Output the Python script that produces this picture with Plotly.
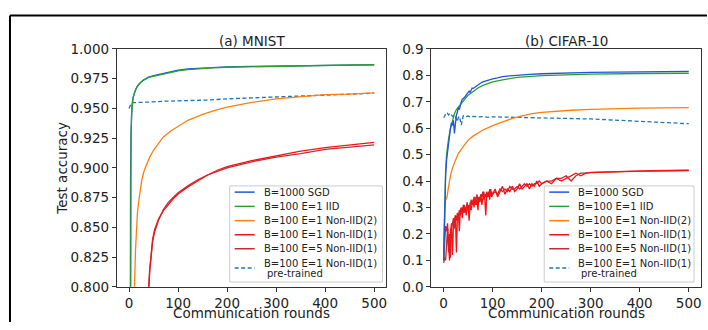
import plotly.graph_objects as go

# ---------------- data ----------------
series_names = ["B=1000 SGD", "B=100 E=1 IID", "B=100 E=1 Non-IID(2)",
                "B=100 E=1 Non-IID(1)", "B=100 E=5 Non-IID(1)",
                "B=100 E=1 Non-IID(1) pre-trained"]

# MNIST
mn_sgd_x = [0, 1, 2, 3, 4, 5, 6, 8, 10, 13, 16, 20, 25, 30, 35, 40, 50, 60, 70, 80, 100, 120, 150, 200, 250, 300, 350, 400, 450, 500]
mn_sgd_y = [0.10, 0.45, 0.75, 0.89, 0.93, 0.947, 0.953, 0.959, 0.962, 0.9655, 0.968, 0.9703, 0.9725, 0.974, 0.9752, 0.9762,
            0.9775, 0.9785, 0.9795, 0.9805, 0.9822, 0.9833, 0.9841, 0.9849, 0.9853, 0.9857, 0.986, 0.9862, 0.9864, 0.9866]
mn_iid_x = [0, 1, 2, 3, 4, 5, 6, 8, 10, 13, 16, 20, 25, 30, 40, 50, 60, 70, 80, 100, 120, 140, 170, 200, 250, 300, 350, 400, 450, 500]
mn_iid_y = [0.10, 0.40, 0.70, 0.88, 0.925, 0.945, 0.952, 0.958, 0.962, 0.9655, 0.968, 0.9705, 0.9725, 0.974, 0.976, 0.977,
            0.978, 0.979, 0.980, 0.9815, 0.9826, 0.9834, 0.9841, 0.9846, 0.9851, 0.9855, 0.9859, 0.9862, 0.9865, 0.9867]
mn_n2_x = [8, 10, 11, 13, 15, 17, 19, 22, 26, 31, 36, 42, 50, 60, 70, 85, 100, 120, 150, 180, 200, 250, 300, 350, 400, 450, 500]
mn_n2_y = [0.60, 0.76, 0.80, 0.83, 0.85, 0.862, 0.870, 0.880, 0.890, 0.898, 0.903, 0.909, 0.915, 0.921, 0.926, 0.931, 0.935,
           0.940, 0.945, 0.949, 0.951, 0.955, 0.958, 0.960, 0.9615, 0.962, 0.963]
mn_n1_x = [36, 38, 40, 42, 45, 48, 52, 56, 60, 70, 80, 90, 100, 120, 140, 160, 180, 200, 250, 300, 350, 400, 450, 500]
mn_n1_y = [0.70, 0.77, 0.80, 0.815, 0.83, 0.84, 0.848, 0.853, 0.857, 0.864, 0.869, 0.874, 0.878, 0.884, 0.889, 0.894, 0.898,
           0.901, 0.906, 0.910, 0.914, 0.917, 0.919, 0.9215]
mn_e5_x = [36, 38, 40, 42, 45, 48, 52, 56, 60, 70, 80, 90, 100, 120, 140, 160, 180, 200, 250, 300, 350, 400, 450, 500]
mn_e5_y = [0.69, 0.76, 0.795, 0.812, 0.828, 0.838, 0.846, 0.852, 0.856, 0.865, 0.871, 0.875, 0.879, 0.885, 0.890, 0.894, 0.897,
           0.900, 0.905, 0.909, 0.912, 0.9155, 0.9175, 0.9193]
mn_pre_x = [0, 2, 4, 8, 15, 25, 40, 50, 70, 100, 130, 160, 200, 250, 300, 350, 400, 450, 500]
mn_pre_y = [0.9499, 0.952, 0.954, 0.9548, 0.955, 0.9553, 0.9558, 0.9555, 0.956, 0.9563, 0.9566, 0.957, 0.958, 0.9587, 0.9595,
            0.9603, 0.9612, 0.962, 0.9628]

# CIFAR-10
cf_sgd_x = [0, 2, 4, 6, 8, 10, 12, 14, 16, 18, 20, 22, 24, 26, 28, 30, 32, 34, 36, 38, 40, 44, 48, 52, 54, 56, 58, 60, 65, 70,
            75, 80, 90, 100, 110, 120, 135, 150, 175, 200, 250, 300, 350, 400, 450, 500]
cf_sgd_y = [0.10, 0.30, 0.42, 0.48, 0.52, 0.55, 0.57, 0.60, 0.62, 0.61, 0.63, 0.58, 0.62, 0.65, 0.66, 0.68, 0.67, 0.69, 0.70,
            0.71, 0.712, 0.72, 0.73, 0.74, 0.735, 0.745, 0.752, 0.75, 0.757, 0.765, 0.77, 0.775, 0.781, 0.787, 0.79, 0.795,
            0.798, 0.801, 0.804, 0.806, 0.809, 0.811, 0.812, 0.813, 0.814, 0.815]
cf_iid_x = [0, 2, 4, 6, 8, 10, 14, 18, 22, 26, 30, 36, 40, 50, 60, 70, 80, 100, 120, 150, 200, 250, 300, 400, 500]
cf_iid_y = [0.10, 0.33, 0.44, 0.50, 0.54, 0.56, 0.60, 0.63, 0.655, 0.67, 0.68, 0.695, 0.703, 0.725, 0.74, 0.752, 0.762, 0.775,
            0.783, 0.792, 0.799, 0.803, 0.805, 0.807, 0.808]
cf_n2_x = [0, 1, 2, 4, 7, 10, 15, 20, 25, 30, 40, 50, 60, 70, 80, 100, 120, 140, 160, 180, 200, 230, 260, 300, 350, 400, 450, 500]
cf_n2_y = [0.10, 0.22, 0.29, 0.33, 0.34, 0.38, 0.43, 0.46, 0.485, 0.505, 0.53, 0.555, 0.57, 0.583, 0.593, 0.61, 0.625, 0.637,
           0.647, 0.655, 0.66, 0.665, 0.668, 0.671, 0.674, 0.676, 0.677, 0.678]
cf_red_x = (list(range(0, 101, 2)) + list(range(105, 201, 5)) + list(range(210, 301, 10)) + list(range(325, 501, 25)))
cf_n1_y = [0.10, 0.20, 0.23, 0.21, 0.24, 0.16, 0.10, 0.21, 0.24, 0.12, 0.23, 0.25, 0.27, 0.13, 0.26, 0.28, 0.21, 0.29, 0.30,
           0.26, 0.31, 0.28, 0.30, 0.27, 0.31, 0.30, 0.25, 0.32, 0.29, 0.31, 0.33, 0.30, 0.34, 0.31, 0.33, 0.29, 0.34, 0.32,
           0.35, 0.31, 0.34, 0.36, 0.33, 0.27, 0.35, 0.34, 0.36, 0.33, 0.37, 0.34, 0.35,
           0.37, 0.34, 0.36, 0.38, 0.35, 0.37, 0.36, 0.38, 0.36, 0.37, 0.39, 0.37, 0.38, 0.39, 0.37, 0.39, 0.38, 0.40, 0.38, 0.39,
           0.40, 0.39, 0.41, 0.40, 0.41, 0.42, 0.43, 0.42, 0.43, 0.432,
           0.434, 0.435, 0.437, 0.438, 0.439, 0.44, 0.44, 0.441]
cf_e5_y = [0.09, 0.11, 0.10, 0.19, 0.22, 0.13, 0.20, 0.11, 0.22, 0.24, 0.26, 0.22, 0.27, 0.25, 0.28, 0.26, 0.29, 0.27, 0.29,
           0.30, 0.28, 0.31, 0.29, 0.30, 0.32, 0.29, 0.31, 0.30, 0.33, 0.31, 0.32, 0.34, 0.31, 0.33, 0.35, 0.32, 0.34, 0.33,
           0.35, 0.34, 0.36, 0.33, 0.35, 0.34, 0.36, 0.35, 0.34, 0.37, 0.35, 0.36, 0.35,
           0.36, 0.35, 0.37, 0.36, 0.37, 0.36, 0.38, 0.37, 0.37, 0.38, 0.37, 0.38, 0.39, 0.38, 0.39, 0.38, 0.39, 0.39, 0.40, 0.39,
           0.40, 0.40, 0.41, 0.41, 0.42, 0.40, 0.42, 0.43, 0.43, 0.433,
           0.435, 0.436, 0.437, 0.438, 0.439, 0.44, 0.44, 0.44]
cf_pre_x = [0, 2, 4, 6, 8, 10, 12, 14, 16, 18, 20, 22, 24, 26, 28, 30, 32, 34, 36, 40, 45, 50, 55, 60, 70, 80, 90, 100, 120,
            140, 160, 180, 200, 250, 300, 350, 400, 450, 500]
cf_pre_y = [0.64, 0.645, 0.655, 0.652, 0.656, 0.65, 0.653, 0.648, 0.65, 0.645, 0.648, 0.64, 0.643, 0.632, 0.625, 0.64, 0.645,
            0.63, 0.612, 0.647, 0.643, 0.646, 0.642, 0.645, 0.643, 0.644, 0.641, 0.643, 0.642, 0.64, 0.641, 0.64, 0.639,
            0.637, 0.635, 0.631, 0.627, 0.622, 0.617]

x_ticks = [0, 100, 200, 300, 400, 500]
mnist_ticks = [0.800, 0.825, 0.850, 0.875, 0.900, 0.925, 0.950, 0.975, 1.000]
cifar_ticks = [0.0, 0.1, 0.2, 0.3, 0.4, 0.5, 0.6, 0.7, 0.8, 0.9]

# ---------------- styles ----------------
colors = ["#1f55e0", "#2ca02c", "#ff7f0e", "#f21414", "#c42a35", "#1f77b4"]
dashes = ["solid", "solid", "solid", "solid", "solid", "4px,2.5px"]
LW = 1.3

W, H = 708, 330
def fx(p): return p / W
def fy(p): return 1 - p / H

FONT = "DejaVu Sans"
fig = go.Figure()

mn = [(mn_sgd_x, mn_sgd_y), (mn_iid_x, mn_iid_y), (mn_n2_x, mn_n2_y), (mn_n1_x, mn_n1_y), (mn_e5_x, mn_e5_y), (mn_pre_x, mn_pre_y)]
cf = [(cf_sgd_x, cf_sgd_y), (cf_iid_x, cf_iid_y), (cf_n2_x, cf_n2_y), (cf_red_x, cf_n1_y), (cf_red_x, cf_e5_y), (cf_pre_x, cf_pre_y)]
for i in [5, 2, 4, 3, 0, 1]:
    x, y = mn[i]
    fig.add_trace(go.Scatter(x=x, y=y, mode="lines", name=series_names[i], showlegend=False,
                             line=dict(color=colors[i], width=LW, dash=dashes[i]), xaxis="x", yaxis="y"))
for i in [5, 2, 4, 3, 1, 0]:
    x, y = cf[i]
    fig.add_trace(go.Scatter(x=x, y=y, mode="lines", name=series_names[i], showlegend=False,
                             line=dict(color=colors[i], width=LW, dash=dashes[i]), xaxis="x2", yaxis="y2"))

L = (117, 387)
R = (432, 702)
T, B = 43, 293

axcommon = dict(showgrid=False, zeroline=False, showline=True, mirror=True, linecolor="#333333", linewidth=1,
                ticks="outside", ticklen=4, tickwidth=1, tickcolor="#333333",
                tickfont=dict(family=FONT, size=13.5, color="#222222"))
fig.update_layout(
    width=W, height=H, autosize=False, margin=dict(l=0, r=0, t=0, b=0, pad=0),
    paper_bgcolor="white", plot_bgcolor="white", showlegend=False,
    xaxis=dict(domain=[fx(L[0]), fx(L[1])], range=[-25, 525], tickvals=x_ticks, anchor="y", **axcommon),
    yaxis=dict(domain=[fy(B), fy(T)], range=[0.8, 1.0], tickvals=mnist_ticks,
               ticktext=[f"{v:.3f}" for v in mnist_ticks], anchor="x", **axcommon),
    xaxis2=dict(domain=[fx(R[0]), fx(R[1])], range=[-25, 525], tickvals=x_ticks, anchor="y2", **axcommon),
    yaxis2=dict(domain=[fy(B), fy(T)], range=[0.0, 0.9], tickvals=cifar_ticks,
                ticktext=[f"{v:.1f}" for v in cifar_ticks], anchor="x2", **axcommon),
)

ann = []
shapes = []
TF = dict(family=FONT, size=13.5, color="#222222")
ann.append(dict(text="(a) MNIST", x=fx((L[0] + L[1]) / 2), y=fy(35), xref="paper", yref="paper",
                showarrow=False, font=TF, xanchor="center", yanchor="middle"))
ann.append(dict(text="(b) CIFAR-10", x=fx((R[0] + R[1]) / 2), y=fy(35), xref="paper", yref="paper",
                showarrow=False, font=TF, xanchor="center", yanchor="middle"))
for cx in [(L[0] + L[1]) / 2, (R[0] + R[1]) / 2]:
    ann.append(dict(text="Communication rounds", x=fx(cx), y=fy(321), xref="paper", yref="paper", borderpad=0,
                    showarrow=False, font=TF, xanchor="center", yanchor="middle"))
ann.append(dict(text="Test accuracy", x=fx(62), y=fy((T + B) / 2), xref="paper", yref="paper", textangle=-90,
                showarrow=False, font=TF, xanchor="center", yanchor="middle"))

# legends (drawn to match the compact matplotlib legend boxes)
LF = dict(family=FONT, size=10, color="#222222")
row_y = [193.5, 208.5, 223.5, 238.3, 253.0]
for bx0, bx1 in [(230, 383), (545, 695)]:
    shapes.append(dict(type="rect", xref="paper", yref="paper", x0=fx(bx0), x1=fx(bx1), y0=fy(187), y1=fy(288),
                       fillcolor="rgba(255,255,255,0.85)", line=dict(color="#cccccc", width=1), layer="above"))
    for i in range(6):
        yy = row_y[i] if i < 5 else 273.3
        shapes.append(dict(type="line", xref="paper", yref="paper", x0=fx(bx0 + 5), x1=fx(bx0 + 25), y0=fy(yy), y1=fy(yy),
                           line=dict(color=colors[i], width=LW + 0.2, dash=dashes[i]), layer="above"))
        if i < 5:
            ann.append(dict(text=series_names[i], x=fx(bx0 + 33), y=fy(yy), xref="paper", yref="paper", showarrow=False,
                            font=LF, xanchor="left", yanchor="middle", borderpad=0))
        else:
            ann.append(dict(text="B=100 E=1 Non-IID(1)", x=fx(bx0 + 33), y=fy(268), xref="paper", yref="paper",
                            showarrow=False, font=LF, xanchor="left", yanchor="middle", borderpad=0))
            ann.append(dict(text="pre-trained", x=fx(bx0 + 36), y=fy(279), xref="paper", yref="paper",
                            showarrow=False, font=LF, xanchor="left", yanchor="middle", borderpad=0))

# outer frame of the cropped figure
shapes.append(dict(type="line", xref="paper", yref="paper", x0=fx(10), x1=1.0, y0=fy(8), y1=fy(8),
                   line=dict(color="black", width=2)))
shapes.append(dict(type="line", xref="paper", yref="paper", x0=fx(10), x1=fx(10), y0=fy(8), y1=0.0,
                   line=dict(color="black", width=2)))

fig.update_layout(annotations=ann, shapes=shapes)
fig.write_html("out.html", config={"displayModeBar": False})
